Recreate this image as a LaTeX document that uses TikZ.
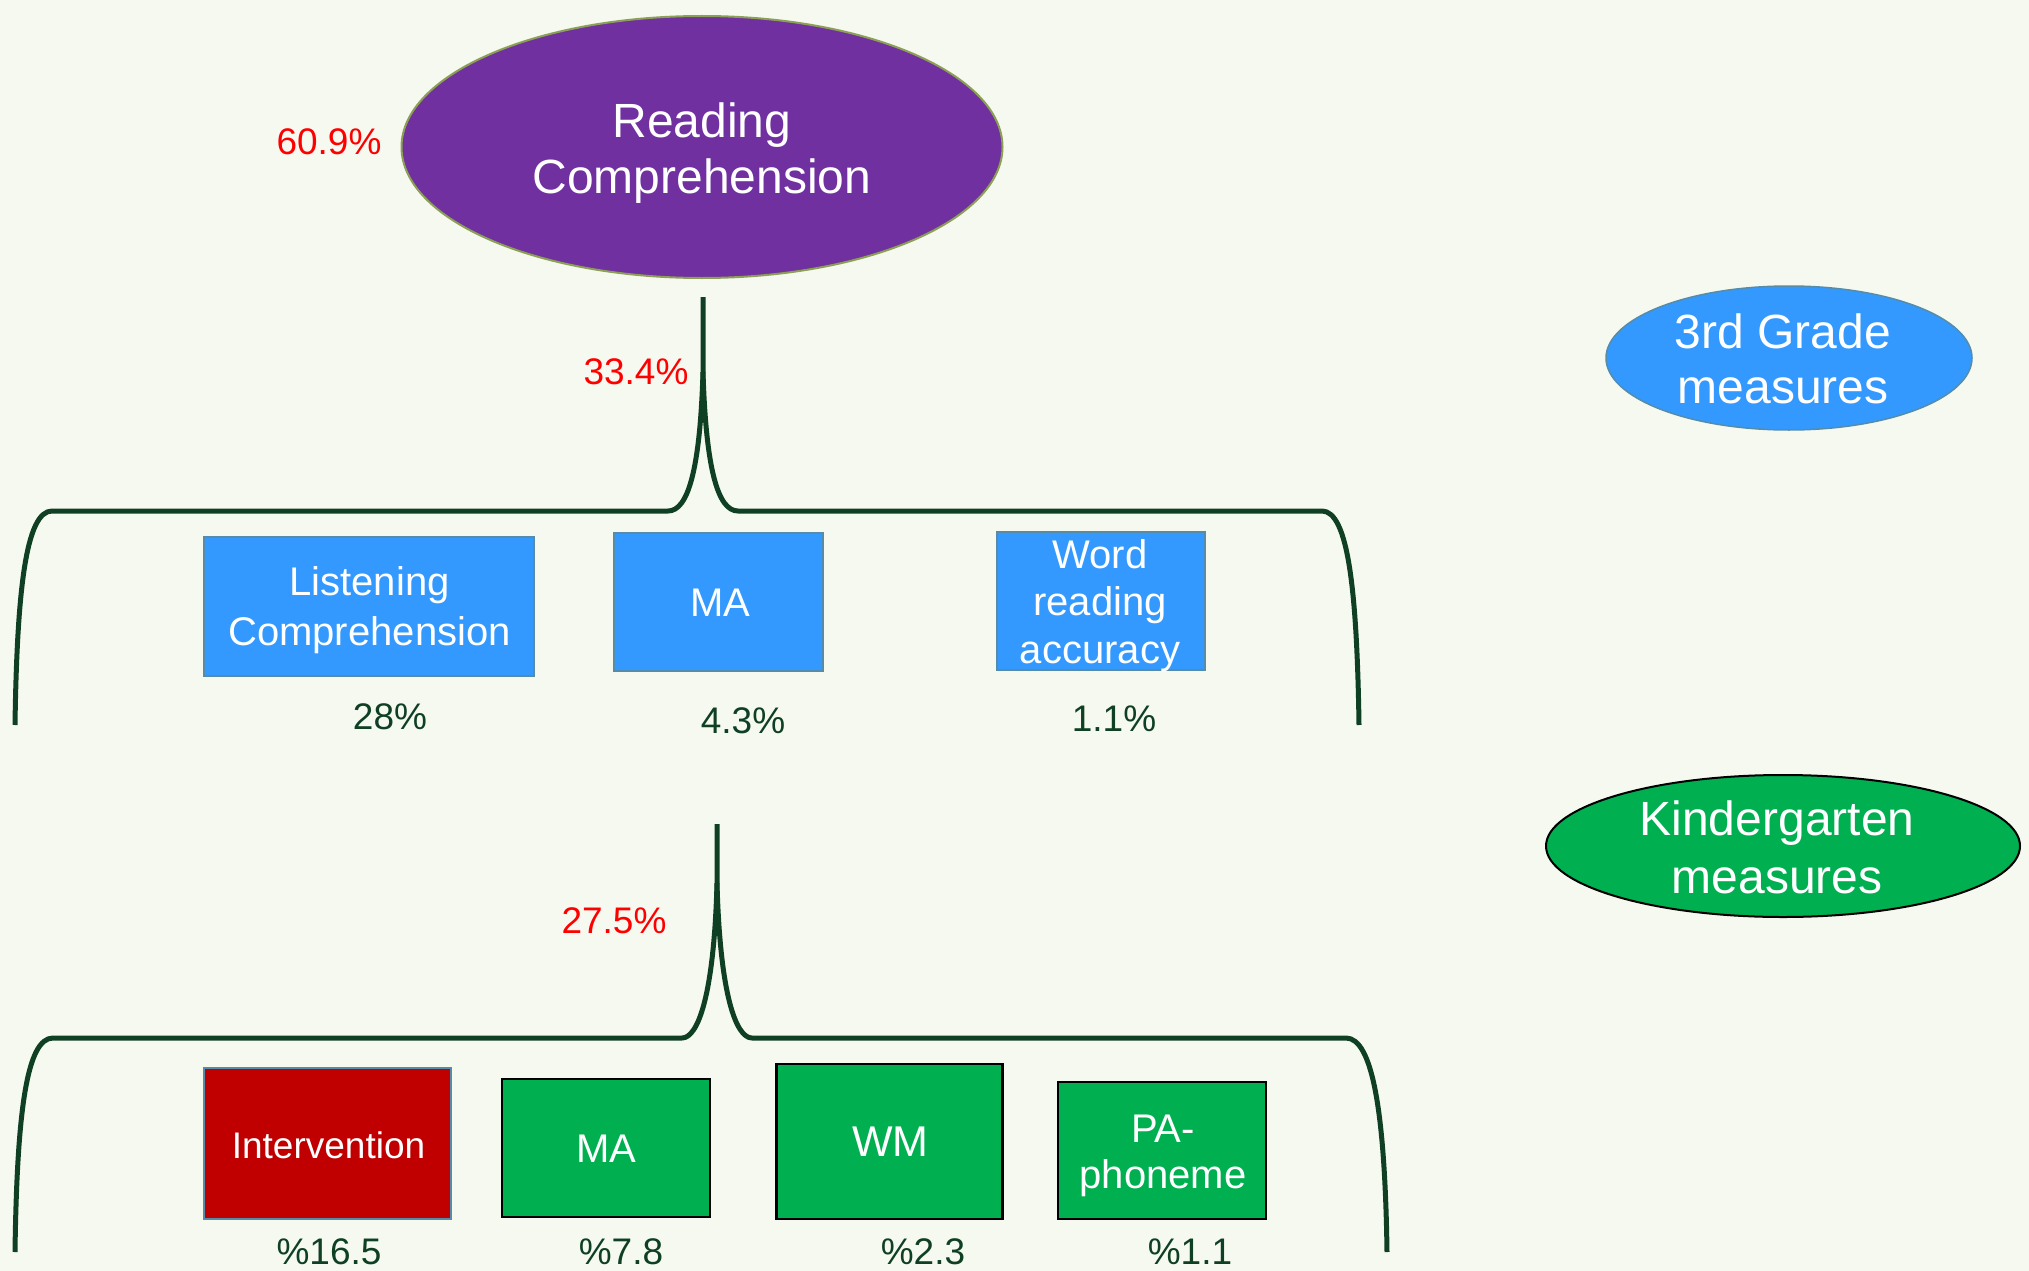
\documentclass[tikz,border=0pt]{standalone}
\usepackage{fontspec}
\setmainfont{Liberation Sans}
\usetikzlibrary{shapes.geometric}

\definecolor{bgcol}{RGB}{246,249,240}
\definecolor{bracecol}{RGB}{15,64,36}
\definecolor{pctred}{RGB}{255,0,0}
\definecolor{rcpurple}{RGB}{112,48,160}
\definecolor{rcedge}{RGB}{140,160,85}
\definecolor{gblue}{RGB}{51,153,255}
\definecolor{gblueedge}{RGB}{85,140,170}
\definecolor{kgreen}{RGB}{0,176,80}
\definecolor{ivred}{RGB}{192,0,0}

\tikzset{
  brace/.style={draw=bracecol, line width=5pt, line join=round},
  bluebox/.style={rectangle, fill=gblue, draw=gblueedge, line width=1.5pt, inner sep=0pt},
  greenbox/.style={rectangle, fill=kgreen, draw=black, line width=2.5pt, inner sep=0pt},
  redbox/.style={rectangle, fill=ivred, draw=gblueedge, line width=2pt, inner sep=0pt},
  boxtext/.style={text=white, inner sep=0pt, align=center},
  redpct/.style={text=pctred, inner sep=0pt, font=\fontsize{37}{44}\selectfont},
  darkpct/.style={text=bracecol, inner sep=0pt, font=\fontsize{37}{44}\selectfont},
}

\begin{document}
\begin{tikzpicture}[x=1pt,y=-1pt]
\fill[bgcol] (0,0) rectangle (2029,1271);
\useasboundingbox (0,0) rectangle (2029,1271);

% top outcome
\node[ellipse, fill=rcpurple, draw=rcedge, line width=2pt, inner sep=0pt,
      minimum width=601pt, minimum height=262pt] (rc) at (702,147) {};
\node[boxtext, font=\fontsize{48}{56}\selectfont] (rctext) at (702,153) {Reading\\Comprehension};
\node[redpct] (p609) at (329,142) {60.9\%};

% legend ellipses
\node[ellipse, fill=gblue, draw=gblueedge, line width=1.5pt, inner sep=0pt,
      minimum width=366pt, minimum height=144pt] (g3) at (1789,358) {};
\node[boxtext, font=\fontsize{48}{55}\selectfont] (g3text) at (1783,359) {3rd Grade\\measures};
\node[ellipse, fill=kgreen, draw=black, line width=2pt, inner sep=0pt,
      minimum width=474pt, minimum height=142pt] (kg) at (1783,846) {};
\node[boxtext, font=\fontsize{48}{58}\selectfont] (kgtext) at (1777,847) {Kindergarten\\measures};

% upper brace
\coordinate (ubl) at (15,725);
\coordinate (ubr) at (1359,725);
\coordinate (utip) at (703,297);
\coordinate (umid) at (703,372);
\draw[brace] (ubl) .. controls (17,590) and (26,511) .. (52,511) -- (668,511)
  .. controls (688,511) and (700,470) .. (umid) -- (utip);
\draw[brace] (umid) .. controls (706,470) and (718,511) .. (738,511) -- (1322,511)
  .. controls (1348,511) and (1357,590) .. (ubr);
\node[redpct] (p334) at (636,372) {33.4\%};

% 3rd grade measures
\node[bluebox, minimum width=330pt, minimum height=139pt] (lc) at (369,606.5) {};
\node[boxtext, font=\fontsize{40}{50}\selectfont] (lctext) at (369.5,610.5) {Listening\\Comprehension};
\node[bluebox, minimum width=209pt, minimum height=138pt] (ma3) at (718.5,602) {};
\node[boxtext, font=\fontsize{40}{48}\selectfont] (ma3text) at (720,603) {MA};
\node[bluebox, minimum width=208pt, minimum height=138pt] (wra) at (1101,601) {};
\node[boxtext, font=\fontsize{40}{47.5}\selectfont] (wratext) at (1100,605.5) {Word\\reading\\accuracy};

\node[darkpct] (p28) at (390,717) {28\%};
\node[darkpct] (p43) at (743,721) {4.3\%};
\node[darkpct] (p11a) at (1114,719) {1.1\%};

% lower brace
\coordinate (lbl) at (15,1252);
\coordinate (lbr) at (1387,1252);
\coordinate (ltip) at (717,824);
\coordinate (lmid) at (717,883);
\draw[brace] (lbl) .. controls (17,1110) and (27,1038) .. (53,1038) -- (682,1038)
  .. controls (698,1038) and (714,995) .. (lmid) -- (ltip);
\draw[brace] (lmid) .. controls (720,995) and (736,1038) .. (752,1038) -- (1346,1038)
  .. controls (1372,1038) and (1385,1110) .. (lbr);
\node[redpct] (p275) at (614,921) {27.5\%};

% kindergarten measures
\node[redbox, minimum width=247pt, minimum height=151pt] (iv) at (327.5,1143.5) {};
\node[boxtext, font=\fontsize{37}{44}\selectfont] (ivtext) at (328.5,1145) {Intervention};
\node[greenbox, minimum width=208pt, minimum height=138pt] (mak) at (606,1148) {};
\node[boxtext, font=\fontsize{40}{48}\selectfont] (maktext) at (606,1149) {MA};
\node[greenbox, minimum width=226pt, minimum height=155pt] (wm) at (889.5,1141.5) {};
\node[boxtext, font=\fontsize{43}{50}\selectfont] (wmtext) at (890.5,1142) {WM};
\node[greenbox, minimum width=208pt, minimum height=137pt] (pa) at (1162,1150.5) {};
\node[boxtext, font=\fontsize{40}{46}\selectfont] (patext) at (1163,1155.5) {PA-\\phoneme};

\node[darkpct] (p165) at (329,1252) {\%16.5};
\node[darkpct] (p78) at (621,1252) {\%7.8};
\node[darkpct] (p23) at (923,1252) {\%2.3};
\node[darkpct] (p11b) at (1190,1252) {\%1.1};
\end{tikzpicture}
\end{document}
